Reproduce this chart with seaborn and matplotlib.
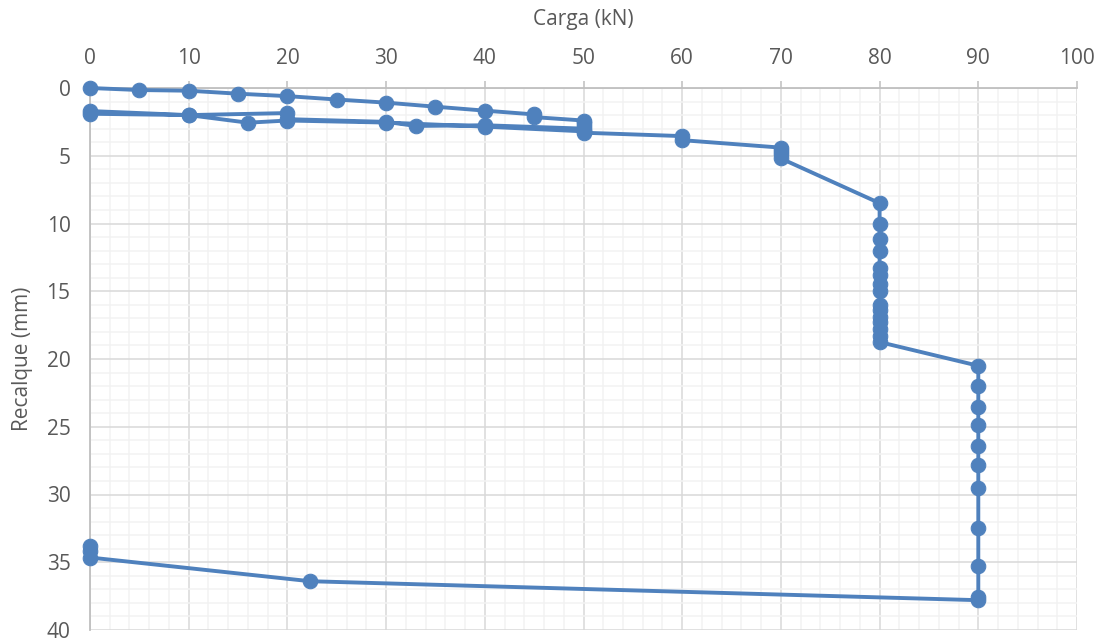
import pandas as pd
import matplotlib
matplotlib.use("Agg")
import matplotlib.pyplot as plt
import seaborn as sns
from matplotlib.ticker import MultipleLocator

# ---------------- DATOS (prova de carga) ---------------- #
# carregamento 0 -> 50 kN
carga_1 = [0, 5, 10, 15, 20, 25, 30, 35, 40, 45, 45, 50, 50, 50, 50]
recalque_1 = [0.0, 0.15, 0.2, 0.42, 0.6, 0.85, 1.08, 1.38, 1.67, 1.95, 2.15, 2.4, 2.6, 2.8, 3.0]

# descarregamento 50 -> 0 kN
carga_2 = [40, 33, 30, 20, 20, 10, 0, 0]
recalque_2 = [2.75, 2.8, 2.5, 2.3, 1.85, 2.0, 1.9, 1.7]

# recarregamento 0 -> 90 kN
carga_3 = [10, 16, 20, 30, 40, 50, 50, 60, 60, 70, 70, 70, 70,
           80, 80, 80, 80, 80, 80, 80, 80, 80, 80, 80, 80, 80, 80, 80,
           90, 90, 90, 90, 90, 90, 90, 90, 90, 90, 90]
recalque_3 = [2.0, 2.56, 2.4, 2.55, 2.85, 3.2, 3.3, 3.55, 3.85, 4.4, 4.65, 4.9, 5.2,
              8.5, 10.0, 11.15, 12.0, 13.3, 13.8, 14.5, 15.0, 16.0, 16.4, 16.9, 17.3, 17.8, 18.3, 18.75,
              20.5, 22.0, 23.55, 24.85, 26.4, 27.85, 29.55, 32.45, 35.25, 37.6, 37.8]

# descarregamento final
carga_4 = [22.3, 0, 0, 0]
recalque_4 = [36.4, 34.65, 34.2, 33.8]

df = pd.DataFrame({
    "Carga": carga_1 + carga_2 + carga_3 + carga_4,
    "Recalque": recalque_1 + recalque_2 + recalque_3 + recalque_4,
})

# ---------------- GRAFICO ---------------- #
sns.set_style("white")
plt.rcParams['font.family'] = ['Open Sans', 'DejaVu Sans']

cor = "#4F81BD"
cinza_txt = "#595959"

fig = plt.figure(figsize=(10.99, 6.42), dpi=100)
ax = fig.add_axes([90 / 1099, 1 - 630 / 642, (1077 - 90) / 1099, (630 - 88) / 642])

sns.lineplot(data=df, x="Carga", y="Recalque", sort=False, estimator=None,
             color=cor, linewidth=2.8, marker="o", markersize=10.5,
             markeredgecolor=cor, markerfacecolor=cor, ax=ax, zorder=3,
             clip_on=False)

ax.set_xlim(0, 100)
ax.set_ylim(40, 0)
ax.xaxis.set_major_locator(MultipleLocator(10))
ax.xaxis.set_minor_locator(MultipleLocator(2))
ax.yaxis.set_major_locator(MultipleLocator(5))
ax.yaxis.set_minor_locator(MultipleLocator(1))

ax.xaxis.tick_top()
ax.xaxis.set_label_position("top")

ax.grid(which="major", color="#D9D9D9", linewidth=1.1)
ax.grid(which="minor", color="#F2F2F2", linewidth=1.1)
ax.set_axisbelow(True)

for s in ["right", "bottom"]:
    ax.spines[s].set_visible(False)
for s in ["top", "left"]:
    ax.spines[s].set_color("#BFBFBF")
    ax.spines[s].set_linewidth(1.3)

ax.tick_params(which="major", axis="both", length=5, width=1.1, color="#BFBFBF",
               labelsize=15, labelcolor=cinza_txt, pad=9)
ax.tick_params(which="minor", length=0)

ax.set_xlabel("Carga (kN)", fontsize=15, color=cinza_txt, labelpad=16)
ax.set_ylabel("Recalque (mm)", fontsize=15, color=cinza_txt, labelpad=10)

fig.savefig("out.png", dpi=100)
